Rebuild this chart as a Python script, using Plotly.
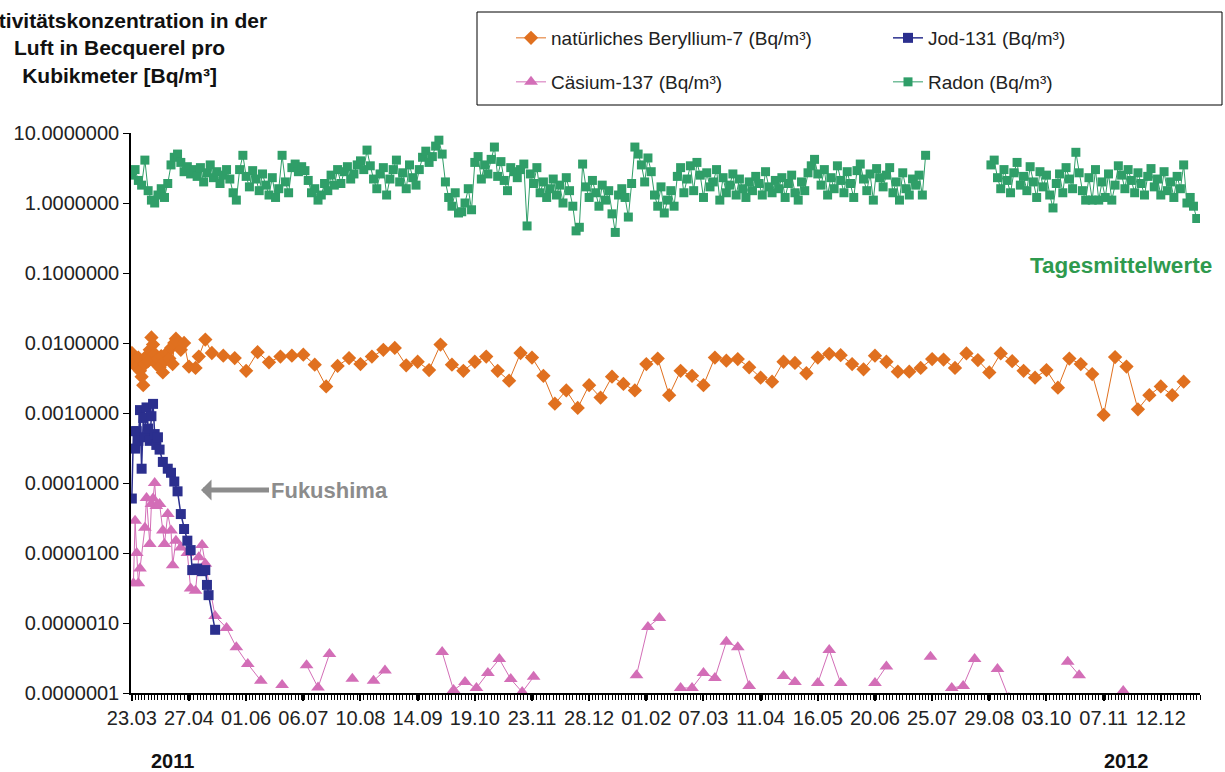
import pandas as pd
import plotly.graph_objects as go

START = pd.Timestamp("2011-03-23")

# ---------------- data ----------------
# Beryllium-7: dense measurements at the start (days since 23.03.2011), then weekly
be7_early_days = [0, 1, 2, 3, 4, 5, 6, 7, 8, 9, 10, 11, 12, 13, 14, 15, 16, 17, 18, 19,
                  20, 21, 23, 24, 25, 26, 27, 28, 30, 32, 35, 39, 41, 45]
be7_early_vals = [0.0072, 0.0060, 0.0052, 0.0045, 0.0062, 0.0040, 0.0033, 0.0025, 0.0050, 0.0065,
                  0.0055, 0.0080, 0.0120, 0.0095, 0.0070, 0.0050, 0.0060, 0.0045, 0.0065, 0.0038,
                  0.0055, 0.0070, 0.0060, 0.0085, 0.0050, 0.0100, 0.0115, 0.0105, 0.0080, 0.0100,
                  0.0046, 0.0044, 0.0064, 0.0112]
be7_weekly_start_day = 49
be7_weekly_vals = [0.0072, 0.0066, 0.0061, 0.0040, 0.0074, 0.0053, 0.0064, 0.0066, 0.0068, 0.0049,
                   0.0024, 0.0047, 0.0061, 0.0050, 0.0064, 0.0080, 0.0085, 0.0048, 0.0054, 0.0041,
                   0.0095, 0.0049, 0.0040, 0.0054, 0.0064, 0.0040, 0.0029, 0.0072, 0.0062, 0.0034,
                   0.00136, 0.0021, 0.00118, 0.0025, 0.00166, 0.0033, 0.0026, 0.0021, 0.0050,
                   0.0060, 0.0018, 0.0040, 0.0034, 0.0025, 0.0062, 0.0056, 0.0059, 0.0045, 0.0032,
                   0.0028, 0.0054, 0.0052, 0.0037, 0.0062, 0.0070, 0.0067, 0.0050, 0.0042, 0.0066,
                   0.0054, 0.0039, 0.0039, 0.0044, 0.0059, 0.0058, 0.0044, 0.0071, 0.0057, 0.0038,
                   0.0071, 0.0055, 0.0040, 0.0032, 0.0041, 0.0023, 0.0060, 0.0050, 0.0036, 0.00094,
                   0.0063, 0.0046, 0.00113, 0.0018, 0.0024, 0.0018, 0.0028]

# Jod-131 (days since 23.03.2011)
jod_days = [0, 1, 2, 3, 4, 5, 6, 7, 8, 9, 10, 11, 12, 13, 14, 15, 16, 17, 19, 22, 24, 26, 28,
            30, 32, 34, 36, 37, 40, 43, 45, 46, 47, 51]
jod_vals = [6.0e-5, 5.5e-4, 3.1e-4, 5.5e-4, 4.0e-4, 1.1e-3, 1.6e-4, 8.5e-4, 4.5e-4, 1.2e-3,
            6.0e-4, 4.0e-4, 9.0e-4, 1.35e-3, 5.0e-4, 3.5e-4, 4.5e-4, 3.0e-4, 2.0e-4, 1.6e-4,
            1.4e-4, 1.05e-4, 7.6e-5, 3.6e-5, 2.2e-5, 1.5e-5, 1.1e-5, 5.7e-6, 6.0e-6, 5.5e-6,
            5.7e-6, 3.5e-6, 2.5e-6, 8.0e-7]

# Caesium-137 (days since 23.03.2011); None = no value (line break)
cs_days = [1, 2, 3, 4, 5, 8, 9, 11, 12, 13, 14, 15, 17, 19, 20, 22, 24, 25, 27, 30, 34, 36, 39,
           41, 43, 45, 51, 58, 64, 71, 79, 85, 92, 100, 107, 114, 121, 128, 135, 141, 148, 155,
           183, 190, 197, 204, 211, 218, 225, 232, 239, 246, 302, 309, 316, 323, 329, 336, 343,
           350, 357, 364, 371, 378, 392, 399, 406, 413, 420, 427, 434, 448, 455, 462, 482, 489,
           495, 502, 509, 516, 523, 530, 537, 566, 573, 580, 600, 607]
cs_vals = [3.7e-6, 2.9e-5, 1.0e-5, 3.7e-6, 6.0e-6, 2.3e-5, 6.1e-5, 1.35e-5, 5.0e-5, 6.0e-5,
           1.0e-4, 4.7e-5, 5.0e-5, 2.1e-5, 1.35e-5, 3.6e-5, 2.1e-5, 6.7e-6, 1.5e-5, 1.2e-5,
           1.0e-5, 3.1e-6, 2.9e-6, 8.7e-6, 1.3e-5, 7.0e-6, 1.26e-6, 8.5e-7, 4.5e-7, 2.6e-7,
           1.5e-7, None, 1.3e-7, None, 2.5e-7, 1.2e-7, 3.6e-7, None, 1.6e-7, None, 1.5e-7, 2.1e-7,
           None, 3.85e-7, 1.1e-7, 1.44e-7, 1.18e-7, 1.93e-7, 3.05e-7, 1.58e-7, 1.03e-7, 1.7e-7,
           None, 1.8e-7, 8.8e-7, 1.18e-6, None, 1.18e-7, 1.18e-7, 1.93e-7, 1.64e-7, 5.4e-7,
           4.5e-7, 1.26e-7, None, 1.75e-7, 1.44e-7, None, 1.39e-7, 4.1e-7, 1.39e-7, None,
           1.39e-7, 2.4e-7, None, 3.3e-7, None, 1.18e-7, 1.26e-7, 3.05e-7, None, 2.2e-7, 8.5e-8,
           None, 2.8e-7, 1.8e-7, None, 1.07e-7]

# Radon daily means (shown every second day), two measuring periods
radon_start_1 = "2011-03-23"
radon_vals_1 = [2.5, 3.0, 2.1, 1.8, 4.1, 1.5, 1.1, 1.0, 1.3, 1.6,
                1.2, 1.9, 3.5, 4.5, 5.0, 3.8, 2.8, 3.3, 2.6, 3.0,
                2.4, 3.2, 2.0, 2.7, 3.5, 2.3, 2.8, 1.9, 2.5, 3.0,
                2.2, 1.4, 1.1, 3.0, 4.8, 2.4, 1.7, 2.9, 2.2, 1.5,
                2.6, 1.8, 1.3, 2.3, 1.2, 1.6, 4.8, 2.0, 1.4, 3.2,
                3.6, 2.8, 3.3, 2.9, 2.1, 1.4, 1.6, 1.1, 1.3, 1.9,
                1.5, 2.5, 1.8, 3.0, 1.9, 2.8, 3.3, 2.2, 2.6, 3.5,
                4.0, 3.0, 5.7, 3.4, 2.2, 1.6, 2.6, 3.2, 1.3, 2.2,
                3.0, 4.1, 2.0, 2.7, 1.6, 3.5, 2.3, 1.8, 3.0, 4.5,
                5.5, 3.8, 4.6, 6.5, 7.9, 5.0, 2.0, 1.2, 0.9, 1.4,
                0.72, 0.75, 1.0, 1.6, 0.8, 3.8, 4.6, 2.2, 3.5, 2.6,
                4.2, 6.3, 2.4, 3.9, 2.1, 1.5, 3.2, 2.8, 2.3, 3.0,
                3.6, 0.47, 2.6, 1.9, 3.2, 1.4, 2.0, 1.2, 1.6, 2.2,
                1.3, 1.8, 1.0, 2.3, 1.5, 0.9, 0.4, 0.45, 3.6, 1.7,
                1.2, 2.1, 1.4, 0.9, 1.8, 1.1, 1.5, 0.7, 0.38, 1.3,
                1.6, 1.2, 0.63, 1.9, 6.3, 5.0, 3.5, 2.0, 4.4, 2.8,
                1.3, 0.9, 1.7, 0.72, 1.1, 1.5, 0.9, 2.4, 3.2, 1.4,
                2.2, 3.4, 1.5, 3.8, 2.5, 1.2, 2.7, 1.7, 2.0, 3.0,
                1.1, 2.3, 1.4, 1.8, 2.6, 1.3, 2.2, 1.6, 1.2, 2.0,
                1.5, 2.4, 1.9, 1.3, 2.8, 1.7, 1.4, 2.1, 1.6, 2.3,
                1.2, 1.9, 2.5, 1.4, 1.1, 2.0, 1.5, 2.7, 3.4, 4.2,
                2.6, 1.8, 3.0, 1.3, 2.3, 1.6, 3.4, 2.1, 1.4, 2.8,
                1.9, 1.2, 2.9, 3.6, 2.2, 1.5, 2.6, 1.1, 3.1, 2.3,
                1.7, 2.5, 3.2, 1.4, 2.0, 1.1, 2.7, 1.6, 1.3, 2.2,
                1.8, 2.5, 1.3, 4.8]
radon_start_2 = "2012-08-30"
radon_vals_2 = [3.5, 4.1, 2.3, 1.6, 3.0, 2.1, 1.4, 2.7, 3.8, 1.8,
                2.4, 1.5, 3.3, 2.0, 1.2, 2.8, 1.7, 2.5, 1.3, 0.85,
                1.9, 2.6, 1.4, 3.2, 2.2, 1.6, 5.3, 2.7, 1.5, 1.1,
                2.3, 1.1, 3.0, 1.1, 2.0, 1.2, 2.6, 1.1, 1.8, 3.4,
                2.5, 1.6, 3.0, 2.1, 1.4, 2.7, 1.9, 1.3, 2.4, 3.1,
                1.7, 2.2, 1.3, 2.8, 1.5, 2.0, 1.2, 2.4, 1.6, 3.5,
                1.0, 1.2, 0.9, 0.6]

x_tick_dates = ["2011-03-23", "2011-04-27", "2011-06-01", "2011-07-06", "2011-08-10",
                "2011-09-14", "2011-10-19", "2011-11-23", "2011-12-28", "2012-02-01",
                "2012-03-07", "2012-04-11", "2012-05-16", "2012-06-20", "2012-07-25",
                "2012-08-29", "2012-10-03", "2012-11-07", "2012-12-12"]
x_tick_labels = ["23.03", "27.04", "01.06", "06.07", "10.08", "14.09", "19.10", "23.11", "28.12",
                 "01.02", "07.03", "11.04", "16.05", "20.06", "25.07", "29.08", "03.10", "07.11",
                 "12.12"]
y_tick_vals = [1e-7, 1e-6, 1e-5, 1e-4, 1e-3, 1e-2, 1e-1, 1, 10]
y_tick_labels = ["0.0000001", "0.0000010", "0.0000100", "0.0001000", "0.0010000",
                 "0.0100000", "0.1000000", "1.0000000", "10.0000000"]

# ---------------- derived x positions ----------------
def to_dates(days):
    return [START + pd.Timedelta(days=d) for d in days]

be7_days = be7_early_days + [be7_weekly_start_day + 7 * i for i in range(len(be7_weekly_vals))]
be7_vals = be7_early_vals + be7_weekly_vals

r1 = list(pd.date_range(radon_start_1, periods=len(radon_vals_1), freq="2D"))
r2 = list(pd.date_range(radon_start_2, periods=len(radon_vals_2), freq="2D"))
radon_x = r1 + [r1[-1] + pd.Timedelta(days=1)] + r2
radon_y = radon_vals_1 + [None] + radon_vals_2

# ---------------- figure ----------------
FONT = "Liberation Sans, Arial, sans-serif"
C_BE = "#E0701F"
C_JOD = "#2B2F8E"
C_CS = "#D36EB7"
C_RN = "#2F9E68"

L, R, T, B = 131, 25, 133, 79
W, H = 1225, 772
pw, ph = W - L - R, H - T - B

def px(x):
    return (x - L) / pw

def py(y):
    return (H - B - y) / ph

fig = go.Figure()

fig.add_trace(go.Scatter(
    x=radon_x, y=radon_y, mode="lines+markers", name="Radon (Bq/m³)",
    line=dict(color=C_RN, width=1), marker=dict(symbol="square", size=9, color=C_RN),
    legend="legend4", connectgaps=False))
fig.add_trace(go.Scatter(
    x=to_dates(be7_days), y=be7_vals, mode="lines+markers", name="natürliches Beryllium-7 (Bq/m³)",
    line=dict(color=C_BE, width=1), marker=dict(symbol="diamond", size=11, color=C_BE),
    legend="legend"))
fig.add_trace(go.Scatter(
    x=to_dates(cs_days), y=cs_vals, mode="lines+markers", name="Cäsium-137 (Bq/m³)",
    line=dict(color=C_CS, width=1), marker=dict(symbol="triangle-up", size=12, color=C_CS),
    legend="legend3", connectgaps=False))
fig.add_trace(go.Scatter(
    x=to_dates(jod_days), y=jod_vals, mode="lines+markers", name="Jod-131 (Bq/m³)",
    line=dict(color=C_JOD, width=1.5), marker=dict(symbol="square", size=10, color=C_JOD),
    legend="legend2"))

legend_common = dict(orientation="h", xanchor="left", yanchor="middle",
                     font=dict(family=FONT, size=19, color="#222"),
                     bgcolor="rgba(0,0,0,0)", itemsizing="trace")

fig.update_layout(
    width=W, height=H,
    margin=dict(l=L, r=R, t=T, b=B, autoexpand=False),
    paper_bgcolor="white", plot_bgcolor="white",
    font=dict(family=FONT, size=18, color="#222"),
    showlegend=True,
    legend=dict(x=px(511), y=py(38), **legend_common),
    legend2=dict(x=px(888), y=py(38), **legend_common),
    legend3=dict(x=px(511), y=py(82), **legend_common),
    legend4=dict(x=px(888), y=py(82), **legend_common),
    xaxis=dict(
        type="date", automargin=False, tickangle=0,
        range=["2011-03-22 12:00", "2013-01-05"],
        tickvals=x_tick_dates, ticktext=x_tick_labels,
        ticks="outside", ticklen=6, tickwidth=1.5, tickcolor="black",
        minor=dict(dtick=2 * 86400000, tick0="2011-03-23", ticks="outside", ticklen=5,
                   tickwidth=1, tickcolor="black"),
        showline=True, linecolor="black", linewidth=1.5,
        showgrid=False, zeroline=False,
        tickfont=dict(family=FONT, size=20, color="#222"),
    ),
    yaxis=dict(
        type="log", range=[-7, 1], automargin=False,
        tickvals=y_tick_vals, ticktext=y_tick_labels,
        ticks="outside", ticklen=6, tickcolor="black",
        showline=True, linecolor="black", linewidth=1.5,
        showgrid=False, zeroline=False,
        tickfont=dict(family=FONT, size=20, color="#222"),
    ),
)

fig.add_shape(type="rect", xref="paper", yref="paper",
              x0=px(477), x1=px(1222), y0=py(105), y1=py(12),
              line=dict(color="black", width=1), fillcolor="rgba(0,0,0,0)")

fig.add_annotation(
    text="<b>Aktivitätskonzentration in der<br>Luft in Becquerel pro<br>Kubikmeter [Bq/m³]</b>",
    xref="paper", yref="paper", x=px(119), y=py(48), xanchor="center", yanchor="middle",
    showarrow=False, align="center", font=dict(family=FONT, size=21, color="#111"))

fig.add_annotation(
    text="<b>Fukushima</b>", xref="paper", yref="paper", x=px(201), y=py(490),
    ax=128, ay=0, showarrow=True, arrowhead=1, arrowsize=0.7, arrowwidth=5,
    arrowcolor="#8C8C8C", font=dict(family=FONT, size=22, color="#8C8C8C"))

fig.add_annotation(
    text="<b>Tagesmittelwerte</b>", xref="paper", yref="paper", x=px(1121), y=py(265),
    xanchor="center", yanchor="middle", showarrow=False,
    font=dict(family=FONT, size=22.5, color="#2E9A4E"))

fig.add_annotation(text="<b>2011</b>", xref="paper", yref="paper", x=px(172), y=py(761),
                   xanchor="center", yanchor="middle", showarrow=False,
                   font=dict(family=FONT, size=20, color="#111"))
fig.add_annotation(text="<b>2012</b>", xref="paper", yref="paper", x=px(1126), y=py(761),
                   xanchor="center", yanchor="middle", showarrow=False,
                   font=dict(family=FONT, size=20, color="#111"))

fig.write_html("out.html",
               config={"displayModeBar": False},
               post_script="document.body.style.margin='0';document.body.style.overflow='hidden';")
